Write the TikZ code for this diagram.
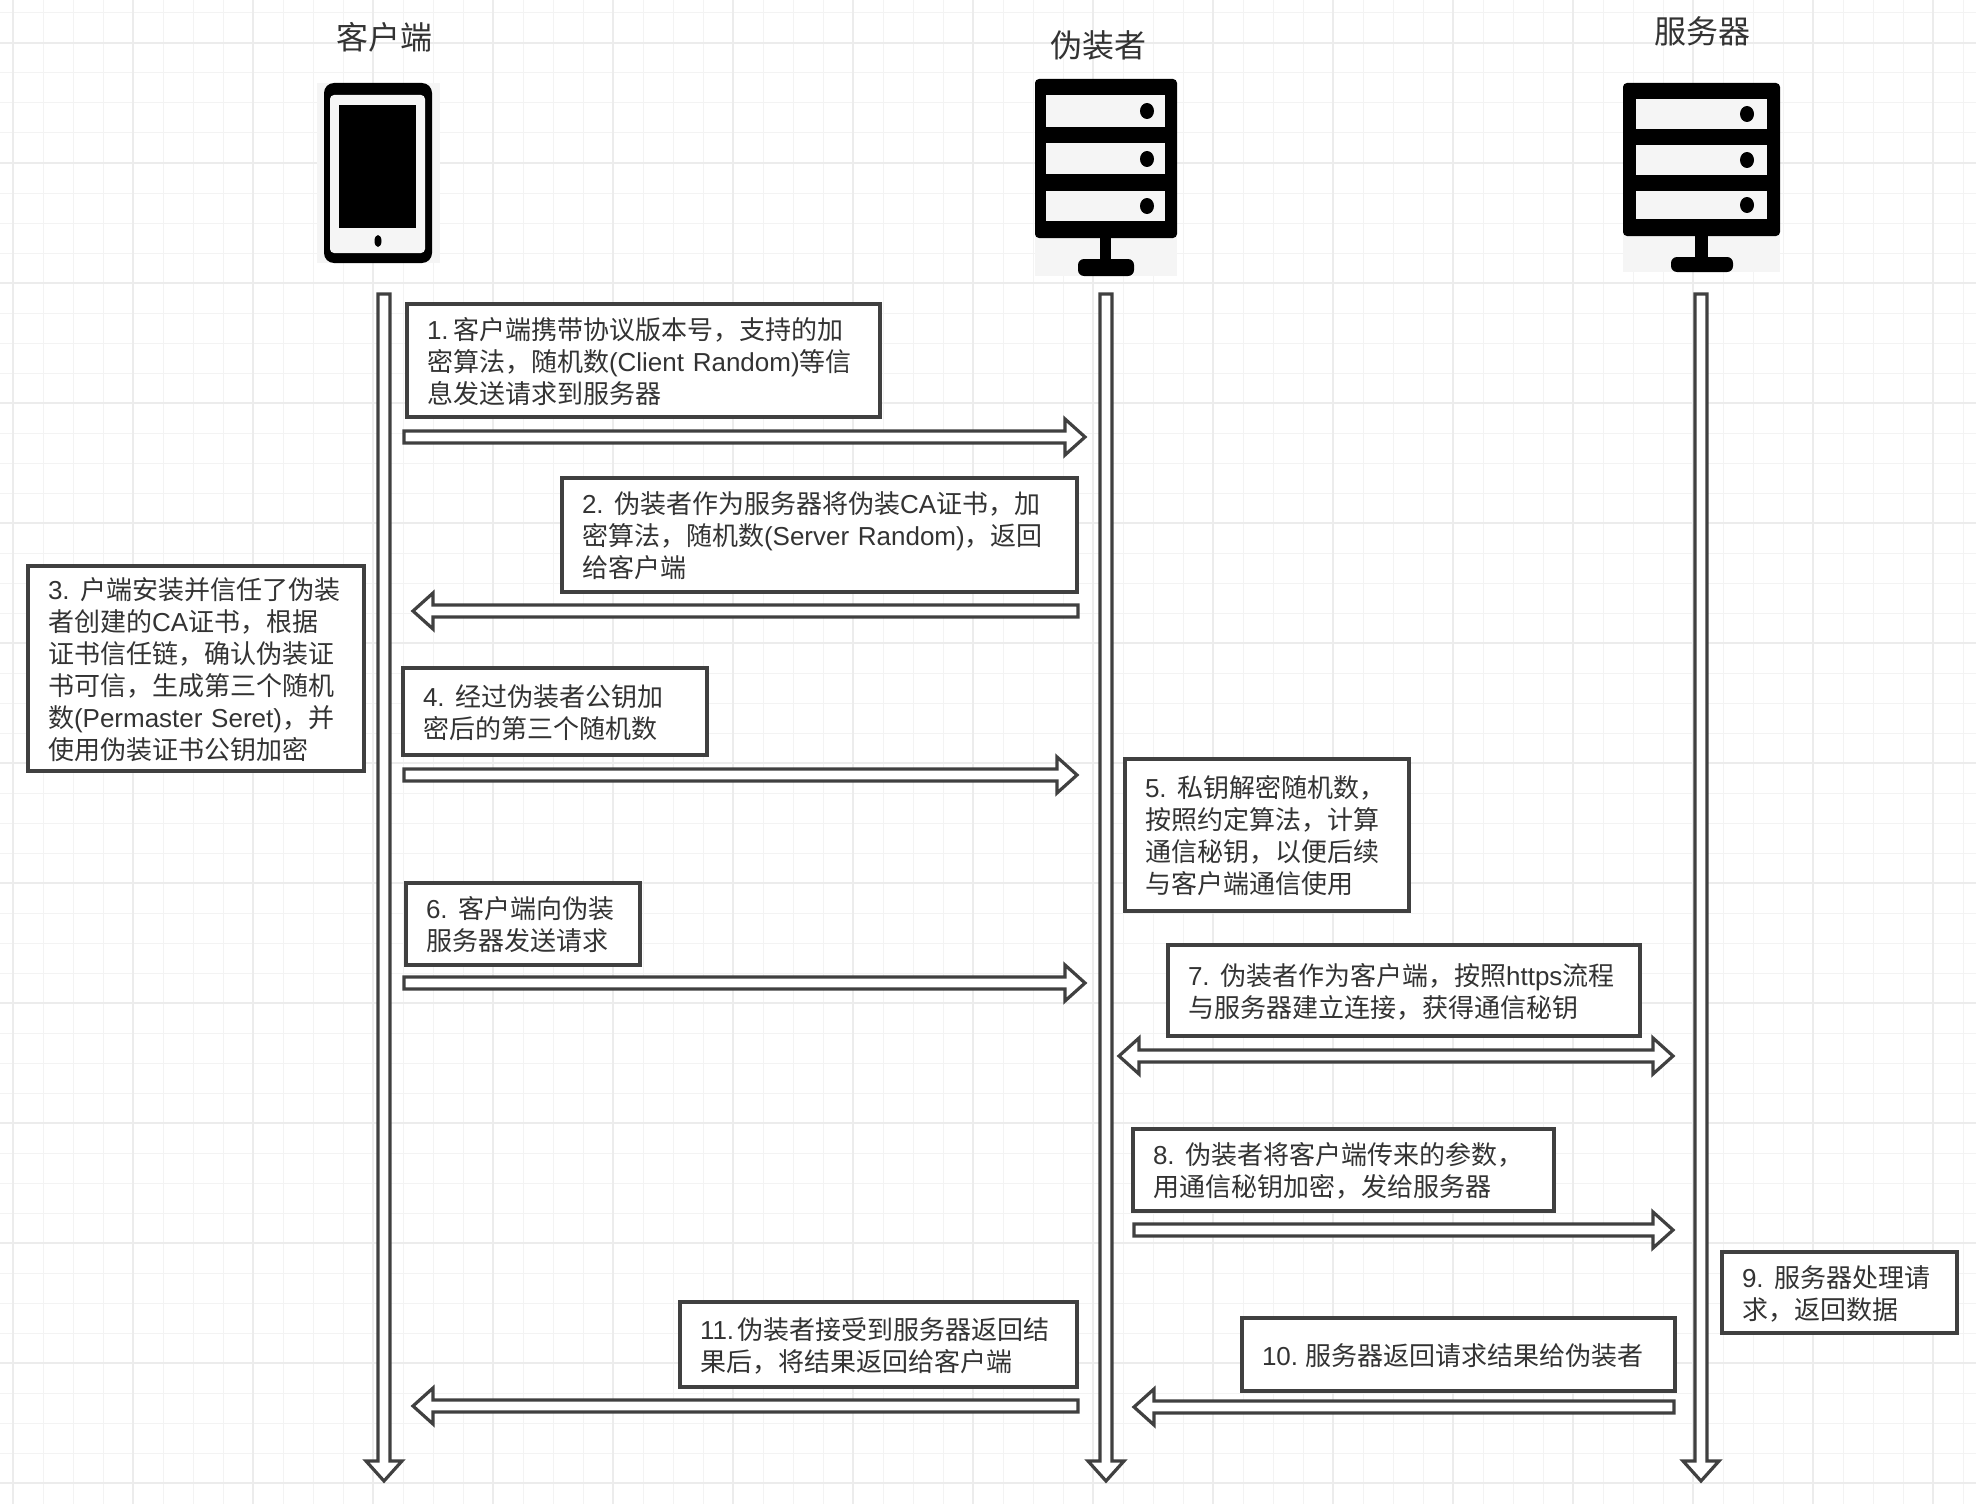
\documentclass[tikz,border=0pt]{standalone}
\usepackage{fontspec}
\usepackage{xcolor}
\usetikzlibrary{calc}
\setmainfont{Noto Sans CJK SC}
\newfontfamily\latfont{Liberation Sans}
\newcommand{\lat}[1]{{\latfont #1}}
\newcommand{\seq}[1]{{\latfont #1}\hspace{5.2pt}}
\definecolor{linecol}{HTML}{404040}
\definecolor{textcol}{HTML}{333333}
\definecolor{paleicon}{HTML}{F5F5F5}
\definecolor{gridminor}{HTML}{F3F3F3}
\definecolor{gridmajor}{HTML}{ECECEC}
\begin{document}
\begin{tikzpicture}[x=0.5pt,y=-0.5pt]
\tikzset{
  flow/.style={draw=linecol,fill=white,line width=1.6pt,to path={
    ($(\tikztostart)!3pt!90:(\tikztotarget)$)
    -- ($($(\tikztotarget)!10pt!(\tikztostart)$)!3pt!90:(\tikztotarget)$)
    -- ($($(\tikztotarget)!10pt!(\tikztostart)$)!9pt!90:(\tikztotarget)$)
    -- (\tikztotarget)
    -- ($($(\tikztotarget)!10pt!(\tikztostart)$)!9pt!-90:(\tikztotarget)$)
    -- ($($(\tikztotarget)!10pt!(\tikztostart)$)!3pt!-90:(\tikztotarget)$)
    -- ($(\tikztostart)!3pt!-90:(\tikztotarget)$) -- cycle}},
  flowboth/.style={draw=linecol,fill=white,line width=1.6pt,to path={
    (\tikztostart)
    -- ($($(\tikztostart)!10pt!(\tikztotarget)$)!9pt!-90:(\tikztotarget)$)
    -- ($($(\tikztostart)!10pt!(\tikztotarget)$)!3pt!-90:(\tikztotarget)$)
    -- ($($(\tikztotarget)!10pt!(\tikztostart)$)!3pt!90:(\tikztostart)$)
    -- ($($(\tikztotarget)!10pt!(\tikztostart)$)!9pt!90:(\tikztostart)$)
    -- (\tikztotarget)
    -- ($($(\tikztotarget)!10pt!(\tikztostart)$)!9pt!-90:(\tikztostart)$)
    -- ($($(\tikztotarget)!10pt!(\tikztostart)$)!3pt!-90:(\tikztostart)$)
    -- ($($(\tikztostart)!10pt!(\tikztotarget)$)!3pt!90:(\tikztotarget)$)
    -- ($($(\tikztostart)!10pt!(\tikztotarget)$)!9pt!90:(\tikztotarget)$) -- cycle}}
}
\tikzstyle{msgbox} =[draw=linecol,fill=white,line width=1.6pt,anchor=north west,outer sep=0pt,inner xsep=10pt,inner ysep=0pt,align=left,text=textcol,font=\fontsize{13}{16}\selectfont,execute at begin node={\rule{0pt}{12pt}}]
\tikzstyle{title} =[text=textcol,inner sep=0pt,font=\fontsize{16}{18}\selectfont]
\tikzstyle{slot} =[fill=paleicon]

\useasboundingbox (0,0) rectangle (1976,1504);

\foreach \gx in {13,43,...,1975} \draw[gridminor,line width=0.5pt] (\gx,0) -- (\gx,1504);
\foreach \gy in {13,43,...,1503} \draw[gridminor,line width=0.5pt] (0,\gy) -- (1976,\gy);
\foreach \gx in {13,133,...,1975} \draw[gridmajor,line width=1pt] (\gx,0) -- (\gx,1504);
\foreach \gy in {43,163,...,1503} \draw[gridmajor,line width=1pt] (0,\gy) -- (1976,\gy);

\node[title](clienttitle) at (384,37){客户端};
\node[title](faketitle) at (1098,45){伪装者};
\node[title](servertitle) at (1702,31){服务器};

\fill[paleicon] (317,83) rectangle (440,263);
\fill[black,rounded corners=5pt] (324,83) rectangle (432,263);
\fill[paleicon,rounded corners=2pt] (330,95) rectangle (425,253);
\fill[black] (339,105) rectangle (416,228);
\fill[black] (378,241) ellipse (3.5 and 6);

\fill[paleicon] (1035,230) rectangle (1177,276);
\fill[black,rounded corners=2pt] (1035,79) rectangle (1177,238);
\fill[slot] (1046,95) rectangle (1165,127);
\fill[slot] (1046,143) rectangle (1165,174);
\fill[slot] (1046,191) rectangle (1165,221);
\fill[black] (1147,111) ellipse (7 and 8);
\fill[black] (1147,159) ellipse (7 and 8);
\fill[black] (1147,206) ellipse (7 and 8);
\fill[black] (1100,238) rectangle (1111,262);
\fill[black,rounded corners=3pt] (1078,259) rectangle (1134,276);

\fill[paleicon] (1623,230) rectangle (1780,272);
\fill[black,rounded corners=2pt] (1623,83) rectangle (1780,236);
\fill[slot] (1636,99) rectangle (1767,129);
\fill[slot] (1636,145) rectangle (1767,175);
\fill[slot] (1636,191) rectangle (1767,219);
\fill[black] (1747,114) ellipse (7 and 8);
\fill[black] (1747,160) ellipse (7 and 8);
\fill[black] (1747,205) ellipse (7 and 8);
\fill[black] (1695,236) rectangle (1708,260);
\fill[black,rounded corners=3pt] (1671,257) rectangle (1733,272);

\coordinate (l1s) at (384,294);
\coordinate (l1e) at (384,1481);
\coordinate (l2s) at (1106,294);
\coordinate (l2e) at (1106,1481);
\coordinate (l3s) at (1701,294);
\coordinate (l3e) at (1701,1481);
\coordinate (a1s) at (404,437);
\coordinate (a1e) at (1085,437);
\coordinate (a2s) at (1078,611);
\coordinate (a2e) at (413,611);
\coordinate (a4s) at (404,775);
\coordinate (a4e) at (1077,775);
\coordinate (a6s) at (404,983);
\coordinate (a6e) at (1085,983);
\coordinate (a7s) at (1119,1056);
\coordinate (a7e) at (1673,1056);
\coordinate (a8s) at (1134,1230);
\coordinate (a8e) at (1673,1230);
\coordinate (a10s) at (1674,1407);
\coordinate (a10e) at (1134,1407);
\coordinate (a11s) at (1078,1406);
\coordinate (a11e) at (413,1406);

\draw[flow] (l1s) to (l1e);
\draw[flow] (l2s) to (l2e);
\draw[flow] (l3s) to (l3e);
\draw[flow] (a1s) to (a1e);
\draw[flow] (a2s) to (a2e);
\draw[flow] (a4s) to (a4e);
\draw[flow] (a6s) to (a6e);
\draw[flowboth] (a7s) to (a7e);
\draw[flow] (a8s) to (a8e);
\draw[flow] (a10s) to (a10e);
\draw[flow] (a11s) to (a11e);

\node[msgbox,text width=216.5pt,minimum height=56.5pt](m1) at (407,304){\lat{1.}\hspace{2.3pt}客户端携带协议版本号，支持的加\\密算法，随机数\lat{(Client Random)}等信\\息发送请求到服务器};
\node[msgbox,text width=237.5pt,minimum height=57pt](m2) at (562,478){\seq{2.}伪装者作为服务器将伪装\lat{CA}证书，加\\密算法，随机数\lat{(Server Random)}，返回\\给客户端};
\node[msgbox,text width=148pt,minimum height=102.5pt](m3) at (28,566){\seq{3.}户端安装并信任了伪装\\者创建的\lat{CA}证书，根据\\证书信任链，确认伪装证\\书可信，生成第三个随机\\数\lat{(Permaster Seret)}，并\\使用伪装证书公钥加密};
\node[msgbox,text width=132pt,minimum height=43.5pt](m4) at (403,668){\seq{4.}经过伪装者公钥加\\密后的第三个随机数};
\node[msgbox,text width=122pt,minimum height=76pt](m5) at (1125,759){\seq{5.}私钥解密随机数，\\按照约定算法，计算\\通信秘钥，以便后续\\与客户端通信使用};
\node[msgbox,text width=97pt,minimum height=41pt](m6) at (406,883){\seq{6.}客户端向伪装\\服务器发送请求};
\node[msgbox,text width=216pt,minimum height=45.5pt](m7) at (1168,945){\seq{7.}伪装者作为客户端，按照\lat{https}流程\\与服务器建立连接，获得通信秘钥};
\node[msgbox,text width=190.5pt,minimum height=41pt](m8) at (1133,1129){\seq{8.}伪装者将客户端传来的参数，\\用通信秘钥加密，发给服务器};
\node[msgbox,text width=97.5pt,minimum height=40.5pt](m9) at (1722,1252){\seq{9.}服务器处理请\\求，返回数据};
\node[msgbox,text width=196.5pt,minimum height=36.5pt](m10) at (1242,1318){\lat{10.}\hspace{3.6pt}服务器返回请求结果给伪装者};
\node[msgbox,text width=178.5pt,minimum height=42.5pt](m11) at (680,1302){\lat{11.}\hspace{1.5pt}伪装者接受到服务器返回结\\果后，将结果返回给客户端};
\end{tikzpicture}
\end{document}
